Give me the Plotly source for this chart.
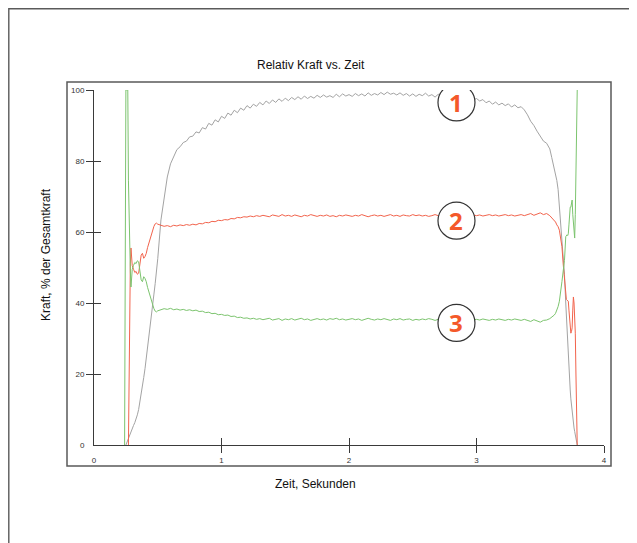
import plotly.graph_objects as go

# ---------------- data ----------------
t_start = [0.240, 0.245, 0.250, 0.255, 0.260, 0.265, 0.270, 0.275, 0.280, 0.285, 0.290,
           0.295, 0.300, 0.310, 0.320, 0.330, 0.340, 0.350, 0.360, 0.370, 0.380, 0.390,
           0.400, 0.410, 0.420, 0.430, 0.440, 0.450, 0.460, 0.470, 0.480, 0.490, 0.500]
t_mid = [0.525, 0.55, 0.575, 0.6, 0.625, 0.65, 0.675, 0.7, 0.725, 0.75, 0.775, 0.8, 0.825, 0.85,
         0.875, 0.9, 0.925, 0.95, 0.975, 1.0,
         1.025, 1.05, 1.075, 1.1, 1.125, 1.15, 1.175, 1.2, 1.225, 1.25, 1.275, 1.3, 1.325, 1.35,
         1.375, 1.4, 1.425, 1.45, 1.475, 1.5,
         1.525, 1.55, 1.575, 1.6, 1.625, 1.65, 1.675, 1.7, 1.725, 1.75, 1.775, 1.8, 1.825, 1.85,
         1.875, 1.9, 1.925, 1.95, 1.975, 2.0,
         2.025, 2.05, 2.075, 2.1, 2.125, 2.15, 2.175, 2.2, 2.225, 2.25, 2.275, 2.3, 2.325, 2.35,
         2.375, 2.4, 2.425, 2.45, 2.475, 2.5,
         2.525, 2.55, 2.575, 2.6, 2.625, 2.65, 2.675, 2.7, 2.725, 2.75, 2.775, 2.8, 2.825, 2.85,
         2.875, 2.9, 2.925, 2.95, 2.975, 3.0,
         3.025, 3.05, 3.075, 3.1, 3.125, 3.15, 3.175, 3.2, 3.225, 3.25, 3.275, 3.3, 3.325, 3.35,
         3.375, 3.4, 3.425, 3.45, 3.475, 3.5, 3.525, 3.55, 3.575]
t_end = [3.59, 3.60, 3.61, 3.62, 3.63, 3.64, 3.65, 3.66, 3.67, 3.68, 3.69, 3.70,
         3.705, 3.71, 3.715, 3.72, 3.725, 3.73, 3.735, 3.74, 3.745, 3.75, 3.755, 3.76,
         3.765, 3.77, 3.775, 3.78, 3.785, 3.79]

gray_start = [None, None, 0, 0.5, 1.0, 1.5, 2.0, 2.5, 3.0, 3.5, 4.0, 4.3, 4.6, 5.5, 6.3, 7.2,
              8.5, 10.0, 12.0, 14.0, 16.4, 19.0, 21.5, 24.3, 27.0, 29.8, 33.0, 36.2, 39.5,
              42.5, 45.5, 48.5, 52.5]
gray_mid = [63.4, 70.0, 75.5, 79.2, 81.4, 83.2, 84.0, 85.2, 85.6, 86.8, 87.0, 88.2, 87.9, 89.4,
            89.0, 90.6, 90.1, 91.6, 91.0, 92.6,
            92.0, 93.5, 92.9, 94.3, 93.6, 94.9, 94.3, 95.6, 94.9, 96.0, 95.4, 96.5, 95.8, 96.9,
            96.2, 97.2, 96.5, 97.5, 96.8, 97.7,
            97.0, 97.9, 97.3, 98.1, 97.4, 98.3, 97.6, 98.2, 97.7, 98.5, 97.9, 98.6, 98.0, 98.4,
            97.9, 98.8, 98.1, 98.9, 98.3, 98.7,
            98.2, 99.0, 98.4, 98.9, 98.3, 99.2, 98.5, 99.0, 98.6, 99.3, 98.7, 99.4, 98.8, 99.1,
            98.6, 99.2, 98.5, 99.0, 98.3, 98.9,
            98.2, 98.8, 98.4, 99.1, 98.3, 98.7, 98.0, 98.8, 98.1, 98.6, 98.0, 98.7, 98.0, 98.4,
            97.6, 98.1, 97.4, 97.9, 97.2, 97.6,
            96.9, 97.3, 96.4, 96.9, 96.0, 96.6, 95.8, 96.3, 95.6, 96.1, 95.2, 95.8, 95.0, 95.3,
            94.4, 93.0, 91.2, 90.0, 88.4, 86.8, 85.6, 85.0, 83.4]
gray_end = [81.0, 79.5, 78.0, 76.5, 74.5, 72.0, 67.0, 61.5, 57.0, 52.5, 48.0, 40.0,
            36.0, 31.0, 27.0, 23.5, 20.5, 18.0, 15.5, 13.0, 11.0, 9.0, 7.5, 6.0,
            4.8, 3.8, 2.8, 2.0, 1.0, 0.0]

red_start = [None, None, None, None, None, None, 0, 22, 43, 51, 55.5, 53, 50.5, 49.5, 48.6,
             48.9, 48.1, 48.4, 51.0, 53.5, 54.0, 52.6, 53.1, 54.0, 55.6, 56.8, 58.4, 59.9,
             61.0, 61.6, 62.3, 62.5, 62.2]
red_mid = [62.0, 61.6, 61.8, 61.5, 61.9, 61.7, 62.0, 61.8, 62.1, 61.9, 62.2, 62.0, 62.4, 62.3,
           62.7, 62.6, 63.0, 62.9, 63.3, 63.2,
           63.5, 63.4, 63.8, 63.7, 64.1, 64.0, 64.3, 64.2, 64.5, 64.3, 64.6, 64.4, 64.7, 64.5,
           64.3, 64.8, 64.6, 64.4, 64.9, 64.5,
           64.7, 64.4, 64.8, 64.6, 64.3, 64.7, 64.5, 64.9, 64.6, 64.4, 64.7, 64.5, 64.8, 64.4,
           64.6, 64.3, 64.7, 64.5, 64.8, 64.6,
           64.4, 64.7, 64.5, 64.9, 64.6, 64.3, 64.6, 64.8, 64.5, 64.7, 64.4, 64.6, 64.9, 64.5,
           64.7, 64.4, 64.8, 64.6, 64.5, 64.9,
           64.6, 64.8, 64.5, 64.7, 64.4, 64.6, 64.9, 64.6, 64.8, 64.5, 64.7, 65.0, 64.6, 64.8,
           64.5, 64.9, 64.7, 64.5, 64.8, 64.6,
           64.8, 64.5, 64.7, 64.9, 64.6, 64.8, 64.5, 64.7, 64.9, 64.6, 64.8, 64.5, 64.7, 64.9,
           64.6, 64.8, 65.2, 64.7, 65.0, 65.4, 64.9, 65.2, 64.6]
red_end = [64.0, 63.6, 63.4, 62.8, 62.0, 61.5, 60.5, 58.5, 55.9, 51.0, 46.5, 41.4,
           41.0, 40.8, 40.6, 40.5, 38.0, 36.0, 33.5, 31.5, 32.0, 33.0, 38.0, 41.7,
           40.0, 36.0, 31.5, 20.0, 8.0, 0.0]

green_start = [0, 62, 100, 100, 100, 100, 74.6, 62, 56.5, 49, 44.5, 47, 49.5, 50.6, 51.4,
               51.1, 51.9, 51.6, 49.0, 46.5, 46.0, 47.4, 46.9, 46.0, 44.4, 43.2, 41.6, 40.1,
               39.0, 38.4, 37.7, 37.5, 37.8]
green_mid = [38.0, 38.4, 38.2, 38.5, 38.1, 38.3, 38.0, 38.2, 37.9, 38.1, 37.8, 38.0, 37.6, 37.7,
             37.3, 37.4, 37.0, 37.1, 36.7, 36.8,
             36.5, 36.6, 36.2, 36.3, 35.9, 36.0, 35.7, 35.8, 35.5, 35.7, 35.4, 35.6, 35.3, 35.5,
             35.7, 35.2, 35.4, 35.6, 35.1, 35.5,
             35.3, 35.6, 35.2, 35.4, 35.7, 35.3, 35.5, 35.1, 35.4, 35.6, 35.3, 35.5, 35.2, 35.6,
             35.4, 35.7, 35.3, 35.5, 35.2, 35.4,
             35.6, 35.3, 35.5, 35.1, 35.4, 35.7, 35.4, 35.2, 35.5, 35.3, 35.6, 35.4, 35.1, 35.5,
             35.3, 35.6, 35.2, 35.4, 35.5, 35.1,
             35.4, 35.2, 35.5, 35.3, 35.6, 35.4, 35.1, 35.4, 35.2, 35.5, 35.3, 35.0, 35.4, 35.2,
             35.5, 35.1, 35.3, 35.5, 35.2, 35.4,
             35.2, 35.5, 35.3, 35.1, 35.4, 35.2, 35.5, 35.3, 35.1, 35.4, 35.2, 35.5, 35.3, 35.1,
             35.4, 35.2, 34.8, 35.3, 35.0, 34.6, 35.1, 35.2, 35.6]
green_end = [36.0, 36.4, 36.6, 37.1, 38.0, 39.0, 40.5, 42.8, 46.0, 49.0, 52.0, 58.7,
             59.0, 59.2, 59.0, 59.5, 62.0, 65.0, 67.0, 67.0, 68.0, 69.0, 65.0, 62.0,
             60.0, 58.3, 65.0, 75.0, 88.0, 100.0]

x_ticks = [0, 1, 2, 3, 4]
y_ticks = [0, 20, 40, 60, 80, 100]
marker_labels = ["1", "2", "3"]
marker_x = [2.843, 2.843, 2.843]
marker_y = [96.5, 63.2, 34.4]

time = t_start + t_mid + t_end
gray = gray_start + gray_mid + gray_end
red = red_start + red_mid + red_end
green = green_start + green_mid + green_end

# ---------------- layout geometry ----------------
# the page body adds an 8px offset, so the figure is 8px smaller and everything
# is positioned relative to the window (reference pixel positions)
OFF = 8
W, H = 637 - OFF, 543 - OFF
L, R, T, B = 94, 604, 90, 445  # plot area in window pixels


def px(xp):
    return (xp - L) / (R - L)


def py(yp):
    return (B - yp) / (B - T)


fig = go.Figure()
fig.add_trace(go.Scatter(x=time, y=gray, mode="lines", line=dict(color="#A3A3A3", width=1),
                         connectgaps=False, showlegend=False, hoverinfo="skip"))
fig.add_trace(go.Scatter(x=time, y=red, mode="lines", line=dict(color="#F2634C", width=1),
                         connectgaps=False, showlegend=False, hoverinfo="skip"))
fig.add_trace(go.Scatter(x=time, y=green, mode="lines", line=dict(color="#7CC46E", width=1),
                         connectgaps=False, showlegend=False, hoverinfo="skip"))
# dummy traces so the tick-only overlay axes are drawn
fig.add_trace(go.Scatter(x=[None], y=[None], xaxis="x2", yaxis="y2", showlegend=False,
                         hoverinfo="skip"))
fig.add_trace(go.Scatter(x=[None], y=[None], xaxis="x3", yaxis="y3", showlegend=False,
                         hoverinfo="skip"))

axis_col = "#3A3A3A"
tick_font = dict(family="Arial, Liberation Sans, sans-serif", size=8, color="#333333")

common_x = dict(range=[0, 4], showgrid=False, zeroline=False, fixedrange=True)
common_y = dict(range=[0, 100], showgrid=False, zeroline=False, fixedrange=True)

fig.update_layout(
    width=W, height=H,
    margin=dict(l=L - OFF, r=637 - R, t=T - OFF, b=543 - B, pad=0),
    paper_bgcolor="white", plot_bgcolor="white",
    xaxis=dict(**common_x, tickvals=x_ticks, ticktext=[str(v) for v in x_ticks],
               ticks="outside", ticklen=7, tickcolor="rgba(0,0,0,0)",
               showline=True, linecolor=axis_col, linewidth=1, tickfont=tick_font),
    yaxis=dict(**common_y, tickvals=y_ticks, ticktext=[str(v) for v in y_ticks],
               ticks="outside", ticklen=7, tickcolor="rgba(0,0,0,0)",
               showline=True, linecolor=axis_col, linewidth=1, tickfont=tick_font),
    xaxis2=dict(**common_x, overlaying="x", anchor="y", tickvals=x_ticks[1:], ticks="outside",
                ticklen=7, tickcolor=axis_col, tickwidth=1, showticklabels=False, showline=False),
    xaxis3=dict(**common_x, overlaying="x", anchor="y", tickvals=x_ticks[1:], ticks="inside",
                ticklen=7, tickcolor=axis_col, tickwidth=1, showticklabels=False, showline=False),
    yaxis2=dict(**common_y, overlaying="y", anchor="x", tickvals=y_ticks[1:], ticks="outside",
                ticklen=7, tickcolor=axis_col, tickwidth=1, showticklabels=False, showline=False),
    yaxis3=dict(**common_y, overlaying="y", anchor="x", tickvals=y_ticks[1:], ticks="inside",
                ticklen=7, tickcolor=axis_col, tickwidth=1, showticklabels=False, showline=False),
)

# frames
frame_col = "#5A5A5A"
fig.add_shape(type="rect", xref="paper", yref="paper", x0=px(8.8), x1=px(660), y0=py(570),
              y1=py(8.8), line=dict(color=frame_col, width=1.4), fillcolor="rgba(0,0,0,0)",
              layer="below")
fig.add_shape(type="rect", xref="paper", yref="paper", x0=px(67), x1=px(611), y0=py(466),
              y1=py(82), line=dict(color=frame_col, width=1.5), fillcolor="rgba(0,0,0,0)",
              layer="below")

# titles
txt_font = dict(family="Arial, Liberation Sans, sans-serif", size=12, color="#111111")
fig.add_annotation(text="Relativ Kraft vs. Zeit", xref="paper", yref="paper", x=px(311),
                   y=py(65), showarrow=False, font=txt_font, xanchor="center", yanchor="middle")
fig.add_annotation(text="Zeit, Sekunden", xref="paper", yref="paper", x=px(315), y=py(484),
                   showarrow=False, font=txt_font, xanchor="center", yanchor="middle")
fig.add_annotation(text="Kraft, % der Gesamtkraft", xref="paper", yref="paper", x=px(46),
                   y=py(255), showarrow=False, font=txt_font, textangle=-90,
                   xanchor="center", yanchor="middle")

# numbered callouts
for lab, mx, my in zip(marker_labels, marker_x, marker_y):
    fig.add_shape(type="circle", xref="x", yref="y", xsizemode="pixel", ysizemode="pixel",
                  xanchor=mx, yanchor=my, x0=-18.5, x1=18.5, y0=-18.5, y1=18.5,
                  line=dict(color="#333333", width=1.2), fillcolor="white", layer="above")
    fig.add_annotation(text="<b>" + lab + "</b>", x=mx, y=my, xref="x", yref="y",
                       showarrow=False, xanchor="center", yanchor="middle",
                       font=dict(family="Open Sans, sans-serif", size=24, color="#F4592A"))

fig.write_html("out.html")
